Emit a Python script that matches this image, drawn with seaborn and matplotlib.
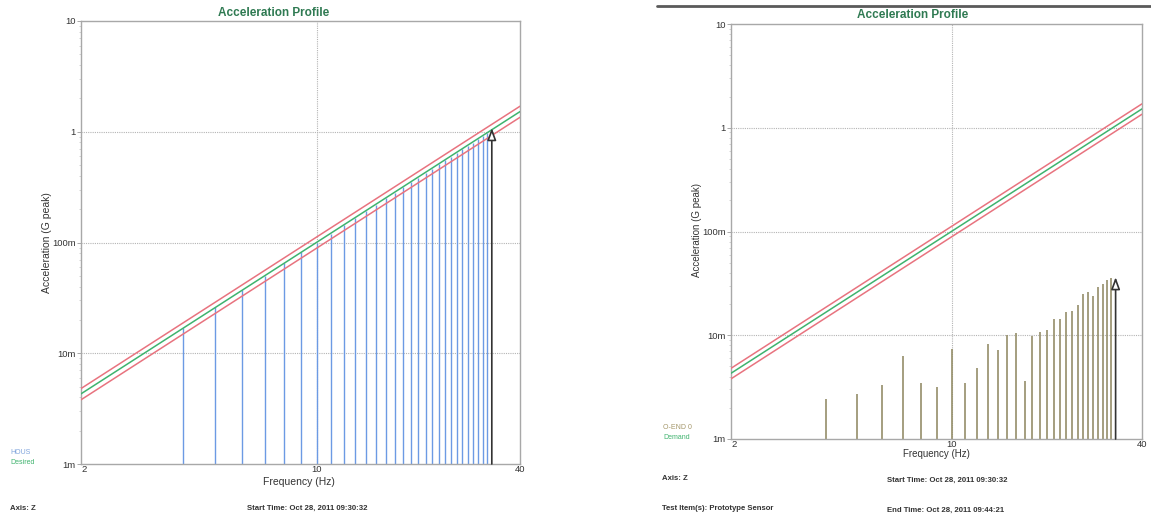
import matplotlib
matplotlib.use("Agg")
import matplotlib.pyplot as plt
from matplotlib.lines import Line2D
from matplotlib.ticker import FixedLocator, NullFormatter, LogLocator
import numpy as np
import pandas as pd
import seaborn as sns

# ---- data -------------------------------------------------------------
profile_freq = [2, 40]
desired = [0.0043, 1.52]
upper_limit = [0.0048, 1.70]
lower_limit = [0.0038, 1.35]

sweep_freq = [4, 5, 6, 7, 8, 9, 10, 11, 12, 13, 14, 15, 16, 17, 18, 19, 20,
              21, 22, 23, 24, 25, 26, 27, 28, 29, 30, 31, 32]
hous_accel = [0.0168, 0.0259, 0.0369, 0.0499, 0.0647, 0.0814, 0.100, 0.1205,
              0.1427, 0.167, 0.193, 0.2203, 0.2502, 0.281, 0.3146, 0.3495,
              0.386, 0.4245, 0.465, 0.507, 0.551, 0.596, 0.644, 0.693, 0.745,
              0.797, 0.852, 0.909, 0.967]
oend_accel = [0.00244, 0.00269, 0.00333, 0.00624, 0.00343, 0.00314, 0.00738,
              0.00345, 0.00485, 0.00819, 0.00717, 0.01007, 0.0105, 0.00364,
              0.00985, 0.0107, 0.0112, 0.0145, 0.0144, 0.0167, 0.0170, 0.0194,
              0.0249, 0.0259, 0.0237, 0.0294, 0.0312, 0.0338, 0.0353]
current_freq = 33
hous_current = 1.08
oend_current = 0.0363

y_ticks = [0.001, 0.01, 0.1, 1, 10]
y_tick_labels = ["1m", "10m", "100m", "1", "10"]
x_ticks = [2, 10, 40]
x_tick_labels = ["2", "10", "40"]

# ---- style ------------------------------------------------------------
sns.set_theme(style="white")
plt.rcParams["font.family"] = ["Liberation Sans", "DejaVu Sans"]

W, H = 1151, 518
fig = plt.figure(figsize=(W / 100, H / 100), dpi=100)
fig.patch.set_facecolor("white")

GREEN = "#3fb36e"
RED = "#e8737f"
TITLE_GREEN = "#2f7a52"
GRID = "#b4b4b4"
SPINE = "#a8a8a8"


def px(x, y):
    return x / W, 1 - y / H


def make_axes(left, top, right, bottom):
    return fig.add_axes([left / W, 1 - bottom / H, (right - left) / W, (bottom - top) / H])


profile = pd.DataFrame({
    "freq": profile_freq * 3,
    "accel": upper_limit + desired + lower_limit,
    "trace": ["upper"] * 2 + ["desired"] * 2 + ["lower"] * 2,
})


def style_axes(ax):
    ax.set_xscale("log")
    ax.set_yscale("log")
    ax.set_xlim(2, 40)
    ax.set_ylim(0.001, 10)
    ax.set_facecolor("white")
    for side in ax.spines.values():
        side.set_color(SPINE)
        side.set_linewidth(1.0)
    ax.yaxis.set_major_locator(FixedLocator(y_ticks))
    ax.set_yticklabels(y_tick_labels)
    ax.yaxis.set_minor_locator(LogLocator(base=10, subs=np.arange(2, 10)))
    ax.yaxis.set_minor_formatter(NullFormatter())
    ax.xaxis.set_major_locator(FixedLocator(x_ticks))
    ax.set_xticklabels(x_tick_labels)
    ax.xaxis.set_minor_locator(FixedLocator([]))
    ax.tick_params(axis="y", which="major", length=3, width=0.7, color=SPINE,
                   labelsize=6.8, labelcolor="#333333", pad=1, left=True)
    ax.tick_params(axis="y", which="minor", length=1.6, width=0.5, color="#c4c4c4", left=True)
    ax.tick_params(axis="x", which="major", length=0, labelsize=6.8,
                   labelcolor="#333333", pad=1)
    for lab in ax.get_xticklabels():
        if lab.get_text() == "2":
            lab.set_horizontalalignment("left")
    for yv in [0.01, 0.1, 1]:
        ax.axhline(yv, color=GRID, lw=0.8, ls=(0, (1, 1)), zorder=0)
    ax.axvline(10, color=GRID, lw=0.8, ls=(0, (1, 1)), zorder=0)
    sns.lineplot(data=profile, x="freq", y="accel", hue="trace",
                 palette={"upper": RED, "desired": GREEN, "lower": RED},
                 lw=1.1, legend=False, ax=ax, zorder=3)
    ax.set_xlabel("")
    ax.set_ylabel("")


def current_marker(ax, f, v):
    ax.annotate("", xy=(f, v), xytext=(f, 0.001), xycoords="data",
                arrowprops=dict(arrowstyle="-|>,head_length=0.6,head_width=0.22",
                                color="#333333", lw=1.2, fc="white",
                                shrinkA=0, shrinkB=0), zorder=5)


# ---- left panel -------------------------------------------------------
axL = make_axes(81, 21, 520, 464)
style_axes(axL)
axL.vlines(sweep_freq, 0.001, hous_accel, color="#6c9ae4", lw=1.0, zorder=2)
current_marker(axL, current_freq, hous_current)

fig.text(*px(274, 13), "Acceleration Profile", ha="center", va="center",
         fontsize=8.5, fontweight="bold", color=TITLE_GREEN)
fig.text(*px(47, 243), "Acceleration (G peak)", ha="center", va="center",
         rotation=90, fontsize=7.5, color="#333333")
fig.text(*px(299, 482), "Frequency (Hz)", ha="center", va="center",
         fontsize=7.5, color="#333333")
fig.text(*px(10, 453), "HOUS", ha="left", va="center", fontsize=5, color="#7ea3dc")
fig.text(*px(10, 463), "Desired", ha="left", va="center", fontsize=5, color=GREEN)
fig.text(*px(10, 508), "Axis: Z", ha="left", va="center", fontsize=5.6,
         fontweight="bold", color="#333333")
fig.text(*px(247, 508.5), "Start Time: Oct 28, 2011 09:30:32", ha="left",
         va="center", fontsize=5.6, fontweight="bold", color="#333333")

# ---- right panel ------------------------------------------------------
axR = make_axes(731, 24, 1142, 439)
style_axes(axR)
axR.vlines(sweep_freq, 0.001, oend_accel, color="#958e69", lw=1.2, zorder=2)
current_marker(axR, current_freq, oend_current)

fig.add_artist(Line2D([657 / W, 1.0], [1 - 6 / H, 1 - 6 / H], color="#5a5a5a", lw=2.0))
fig.text(*px(913, 15), "Acceleration Profile", ha="center", va="center",
         fontsize=8.5, fontweight="bold", color=TITLE_GREEN)
fig.text(*px(697, 230), "Acceleration (G peak)", ha="center", va="center",
         rotation=90, fontsize=7, color="#333333")
fig.text(*px(936, 454), "Frequency (Hz)", ha="center", va="center",
         fontsize=7, color="#333333")
fig.text(*px(663, 427.5), "O-END 0", ha="left", va="center", fontsize=5, color="#a4976a")
fig.text(*px(663, 437.5), "Demand", ha="left", va="center", fontsize=5, color=GREEN)
fig.text(*px(662, 479), "Axis: Z", ha="left", va="center", fontsize=5.6,
         fontweight="bold", color="#333333")
fig.text(*px(662, 509), "Test Item(s): Prototype Sensor", ha="left", va="center",
         fontsize=5.6, fontweight="bold", color="#333333")
fig.text(*px(887, 480.5), "Start Time: Oct 28, 2011 09:30:32", ha="left",
         va="center", fontsize=5.6, fontweight="bold", color="#333333")
fig.text(*px(887, 510.5), "End Time: Oct 28, 2011 09:44:21", ha="left",
         va="center", fontsize=5.6, fontweight="bold", color="#333333")

fig.savefig("out.png", dpi=100, facecolor="white")
